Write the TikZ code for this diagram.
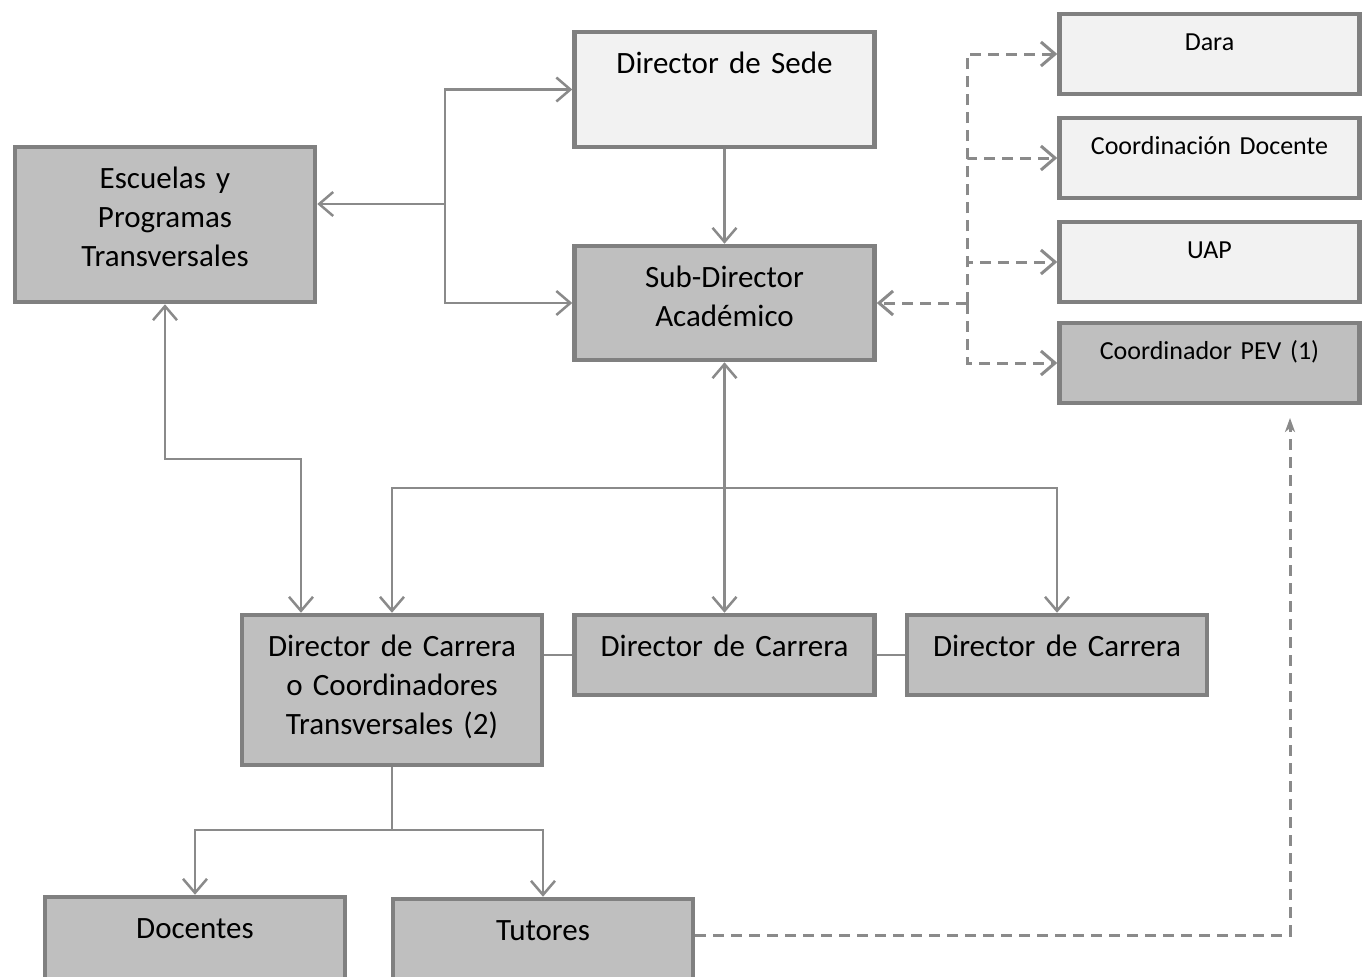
\documentclass[tikz,border=0pt]{standalone}
\usepackage{fontspec}
\setmainfont{Carlito}
\usetikzlibrary{arrows.meta}
\definecolor{boxline}{HTML}{808080}
\definecolor{wireline}{HTML}{8A8A8A}
\definecolor{lightfill}{HTML}{F2F2F2}
\definecolor{darkfill}{HTML}{BFBFBF}
\newcommand{\bigtext}{\fontsize{31}{39}\selectfont}
\newcommand{\smalltext}{\fontsize{26}{31}\selectfont}
\tikzset{
  unit/.style={draw=boxline, line width=4.5pt, text width=290pt, inner xsep=5pt,
    inner ysep=0pt, align=center, text height=41pt, text depth=#1, font=\bigtext},
  minor/.style={unit=44pt, text height=36pt, font=\smalltext},
  light/.style={fill=lightfill},
  dark/.style={fill=darkfill},
  wire/.style={draw=wireline, line width=2.5pt},
  link/.style={wire, -{Straight Barb[length=14pt,width=24pt]}},
  twolink/.style={wire, {Straight Barb[length=14pt,width=24pt]}-{Straight Barb[length=14pt,width=24pt]}},
  dlink/.style={link, line width=3pt, dash pattern=on 11pt off 7pt},
  thinwire/.style={draw=wireline, line width=1.5pt}
}
\begin{document}
\begin{tikzpicture}[x=1pt,y=-1pt]
  \useasboundingbox (0,0) rectangle (1371,977);
  \clip (0,0) rectangle (1371,977);

  % upper level
  \node[unit=114pt, dark] (esc) at (165,224.5) {Escuelas y\\Programas\\Transversales};
  \node[unit=74pt, light] (sede) at (724.5,89.5) {Director de Sede};
  \node[unit=73pt, dark] (sub) at (724.5,303) {Sub-Director\\Académico};

  % support units
  \node[minor, light] (dara) at (1209.5,54) {Dara};
  \node[minor, light] (coord) at (1209.5,158) {Coordinación Docente};
  \node[minor, light] (uap) at (1209.5,262) {UAP};
  \node[minor, dark] (pev) at (1209.5,363) {Coordinador PEV (1)};

  % careers
  \node[unit=109pt, dark] (dcA) at (392,690) {Director de Carrera\\o Coordinadores\\Transversales (2)};
  \node[unit=39pt, dark] (dcB) at (724.5,655) {Director de Carrera};
  \node[unit=39pt, dark] (dcC) at (1057,655) {Director de Carrera};

  \node[unit=59pt, dark] (doc) at (195,947) {Docentes};
  \node[unit=59pt, dark] (tut) at (543,949) {Tutores};

  \coordinate (j1) at (445,204);
  \coordinate (d1) at (967,303);
  \coordinate (k1) at (301,459);
  \coordinate (hub) at (724.5,488);
  \coordinate (k2) at (392,830);
  \coordinate (k3) at (1290,935);
  \coordinate (k4) at (1290,418);

  \draw[link] (j1) -- (esc.east |- j1);
  \draw[link] (j1) |- (sede.west);
  \draw[link] (j1) |- (sub.west);
  \draw[link] (sede) -- (sub);

  \draw[dlink] (d1) -- (sub.east);
  \foreach \n in {dara,coord,uap,pev}
    \draw[dlink] (d1) |- (\n.west);

  \draw[twolink] (esc.south) |- (k1) -- (k1 |- dcA.north);
  \draw[twolink] (sub) -- (dcB);
  \draw[link] (hub) -| (dcA);
  \draw[link] (hub) -| (dcC);

  \draw[thinwire] (dcA.east |- dcB.west) -- (dcB.west);
  \draw[thinwire] (dcB) -- (dcC);

  \draw[wire] (dcA.south) -- (k2);
  \draw[link] (k2) -| (doc);
  \draw[link] (k2) -| (tut);

  \draw[wire, line width=3pt, dash pattern=on 11pt off 7pt, -{Stealth[length=14pt,width=10pt,inset=4pt]}]
    (tut.east |- k3) -- (k3) -- (k4);
\end{tikzpicture}
\end{document}
